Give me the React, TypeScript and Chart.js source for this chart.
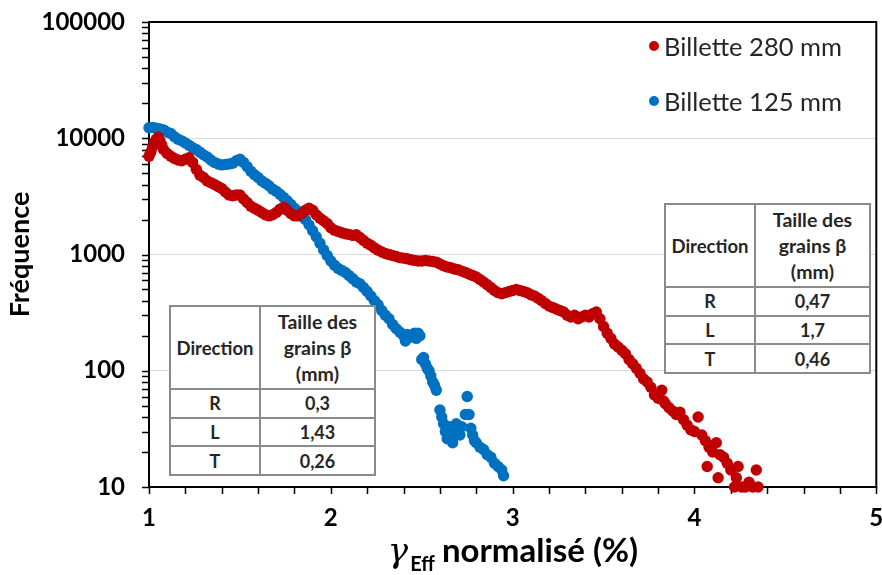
import React, { useEffect, useRef } from "react";
import { Chart, registerables } from "chart.js";

Chart.register(...registerables);

const FONT = 'Lato, "Open Sans", sans-serif';

const seriesNames = ["Billette 280 mm", "Billette 125 mm"];
const seriesColors = ["#C00000", "#0070C0"];

const redX = [1.00,1.01,1.02,1.03,1.04,1.05,1.06,1.07,1.08,1.10,1.12,1.14,1.16,1.18,1.20,1.22,1.24,1.26,1.28,1.30,1.32,1.34,1.36,1.38,1.40,1.42,1.44,1.46,1.48,1.50,1.52,1.54,1.56,1.58,1.60,1.62,1.64,1.66,1.68,1.70,1.72,1.74,1.76,1.78,1.80,1.82,1.84,1.86,1.88,1.90,1.92,1.94,1.96,1.98,2.00,2.02,2.04,2.06,2.08,2.10,2.12,2.14,2.16,2.18,2.20,2.22,2.24,2.26,2.28,2.30,2.32,2.34,2.36,2.38,2.40,2.42,2.44,2.46,2.48,2.50,2.52,2.54,2.56,2.58,2.60,2.62,2.64,2.66,2.68,2.70,2.72,2.74,2.76,2.78,2.80,2.82,2.84,2.86,2.88,2.90,2.92,2.94,2.96,2.98,3.00,3.02,3.04,3.06,3.08,3.10,3.12,3.14,3.16,3.18,3.20,3.22,3.24,3.26,3.28,3.30,3.32,3.34,3.36,3.38,3.40,3.42,3.44,3.46,3.48,3.50,3.52,3.54,3.56,3.58,3.60,3.62,3.64,3.66,3.68,3.70,3.72,3.74,3.76,3.78,3.80,3.82,3.83,3.84,3.86,3.88,3.90,3.92,3.94,3.96,3.98,4.00,4.02,4.04,4.06,4.07,4.08,4.10,4.12,4.13,4.14,4.16,4.18,4.20,4.22,4.23,4.24,4.26,4.28,4.30,4.32,4.34,4.35];
const redY = [7000,7600,8400,9200,9800,10200,9500,8800,8000,7400,7000,6700,6500,6400,6600,6800,6200,5400,4800,4600,4300,4150,4000,3850,3700,3450,3250,3200,3250,3250,3000,2800,2600,2500,2400,2300,2200,2150,2200,2300,2450,2550,2400,2250,2150,2150,2250,2400,2500,2400,2200,2050,1950,1850,1700,1620,1580,1540,1510,1490,1460,1480,1400,1320,1250,1200,1140,1090,1050,1020,1000,980,960,940,930,920,900,890,880,880,890,880,870,860,830,800,780,770,750,740,720,700,680,660,640,610,580,550,520,490,470,460,470,480,490,500,490,480,470,450,440,420,400,380,360,350,340,330,320,300,290,300,280,290,300,290,310,320,280,240,210,190,170,160,150,140,125,115,105,95,85,80,72,62,58,68,55,52,48,45,42,44,38,34,31,30,40,28,25,15,22,20,24,12,19,18,16,14,10,12,15,10,10,11,10,14,10];

const blueX = [1.00,1.02,1.04,1.06,1.08,1.10,1.12,1.14,1.16,1.18,1.20,1.22,1.24,1.26,1.28,1.30,1.32,1.34,1.36,1.38,1.40,1.42,1.44,1.46,1.48,1.50,1.52,1.54,1.56,1.58,1.60,1.62,1.64,1.66,1.68,1.70,1.72,1.74,1.76,1.78,1.80,1.82,1.84,1.86,1.88,1.90,1.92,1.94,1.96,1.98,2.00,2.02,2.04,2.06,2.08,2.10,2.12,2.14,2.16,2.18,2.20,2.22,2.24,2.26,2.28,2.30,2.32,2.34,2.36,2.38,2.40,2.41,2.42,2.44,2.46,2.47,2.48,2.49,2.50,2.51,2.52,2.53,2.54,2.55,2.56,2.57,2.58,2.60,2.61,2.62,2.63,2.64,2.65,2.66,2.67,2.68,2.69,2.70,2.71,2.72,2.74,2.75,2.76,2.77,2.78,2.79,2.80,2.82,2.84,2.86,2.88,2.90,2.92,2.94,2.95];
const blueY = [12300,12400,12200,12000,11800,11300,11000,10300,9800,9500,9100,8700,8300,8000,7600,7200,6900,6500,6200,6000,5900,5950,6000,6100,6400,6600,6200,5700,5200,4850,4600,4300,4100,3900,3650,3500,3300,3100,2900,2700,2500,2350,2150,2000,1800,1600,1420,1250,1100,980,880,810,760,730,700,660,620,580,560,520,480,440,400,370,330,300,280,250,230,215,200,180,205,195,210,190,210,200,125,130,115,105,100,90,80,75,68,46,40,35,30,26,33,28,24,32,35,30,28,33,42,60,42,32,28,25,24,22,21,19,18,16,15,14,12.5];

const xTicks = [1, 2, 3, 4, 5];
const yTicks = [10, 100, 1000, 10000, 100000];

const tableHeader = ["Direction", "Taille des", "grains β", "(mm)"];
const directions = ["R", "L", "T"];
const sizes125 = ["0,3", "1,43", "0,26"];
const sizes280 = ["0,47", "1,7", "0,46"];

const framePlugin = {
  id: "frame",
  beforeDatasetsDraw(chart: any) {
    const { ctx, chartArea: a, scales } = chart;
    const x = scales.x;
    const y = scales.y;
    ctx.save();
    ctx.strokeStyle = "#000";
    ctx.lineWidth = 1.5;
    ctx.beginPath();
    for (let e = 1; e <= 5; e++) {
      for (let m = 1; m <= 9; m++) {
        const v = m * Math.pow(10, e);
        if (v > 100000) break;
        const py = Math.round(y.getPixelForValue(v)) + 0.5;
        ctx.moveTo(a.left - 7, py);
        ctx.lineTo(a.left, py);
      }
    }
    for (let i = 0; i <= 20; i++) {
      const px = Math.round(x.getPixelForValue(1 + i * 0.2)) + 0.5;
      ctx.moveTo(px, a.bottom);
      ctx.lineTo(px, a.bottom + 7);
    }
    ctx.stroke();
    ctx.lineWidth = 2;
    ctx.strokeRect(a.left, a.top, a.right - a.left, a.bottom - a.top);
    ctx.restore();
  },
};

function GrainTable({ left, top, values }: { left: number; top: number; values: string[] }) {
  const cell: React.CSSProperties = {
    border: "2px solid #8a8a8a",
    textAlign: "center",
    verticalAlign: "middle",
    padding: 0,
  };
  return (
    <table
      style={{
        position: "absolute",
        left,
        top,
        width: 205,
        height: 169,
        borderCollapse: "collapse",
        background: "#fff",
        fontFamily: FONT,
        fontWeight: 700,
        fontSize: 18,
        color: "#262626",
        tableLayout: "fixed",
      }}
    >
      <colgroup>
        <col style={{ width: 90 }} />
        <col style={{ width: 115 }} />
      </colgroup>
      <tbody>
        <tr style={{ height: 83 }}>
          <td style={{ ...cell, fontSize: 18.5 }}>{tableHeader[0]}</td>
          <td style={{ ...cell, fontSize: 19.5, lineHeight: "26px" }}>
            {tableHeader[1]}
            <br />
            {tableHeader[2]}
            <br />
            {tableHeader[3]}
          </td>
        </tr>
        {directions.map((d, i) => (
          <tr key={d} style={{ height: 28.7 }}>
            <td style={cell}>{d}</td>
            <td style={cell}>{values[i]}</td>
          </tr>
        ))}
      </tbody>
    </table>
  );
}

export default function App() {
  const ref = useRef<HTMLCanvasElement>(null);
  useEffect(() => {
    if (!ref.current) return;
    const zeroPad = (s: any) => {
      s.paddingTop = 0;
      s.paddingBottom = 0;
      s.paddingLeft = 0;
      s.paddingRight = 0;
    };
    const chart = new Chart(ref.current, {
      type: "scatter",
      data: {
        datasets: [
          {
            label: seriesNames[0],
            data: redX.map((x, i) => ({ x, y: redY[i] })),
            backgroundColor: seriesColors[0],
            borderColor: seriesColors[0],
            pointRadius: 5.7,
            pointBorderWidth: 0,
            clip: 8,
          },
          {
            label: seriesNames[1],
            data: blueX.map((x, i) => ({ x, y: blueY[i] })),
            backgroundColor: seriesColors[1],
            borderColor: seriesColors[1],
            pointRadius: 5.7,
            pointBorderWidth: 0,
            clip: 8,
          },
        ],
      },
      options: {
        animation: false,
        responsive: false,
        layout: { padding: { top: 22, right: 4, bottom: 0, left: 0 } },
        plugins: { legend: { display: false }, tooltip: { enabled: false } },
        scales: {
          x: {
            type: "linear",
            min: 1,
            max: 5,
            afterBuildTicks: (s: any) => {
              s.ticks = xTicks.map((v) => ({ value: v }));
            },
            afterFit: (s: any) => {
              s.height = 88;
              zeroPad(s);
            },
            grid: { display: false, drawTicks: false },
            border: { display: false },
            ticks: {
              padding: 17,
              color: "#000",
              font: { family: FONT, size: 24, weight: "bold" },
              callback: (v: any) => String(v),
            },
          },
          y: {
            type: "logarithmic",
            min: 10,
            max: 100000,
            afterBuildTicks: (s: any) => {
              s.ticks = yTicks.map((v) => ({ value: v }));
            },
            afterFit: (s: any) => {
              s.width = 149;
              zeroPad(s);
            },
            grid: { display: true, drawTicks: false, color: "#d9d9d9", lineWidth: 1 },
            border: { display: false },
            ticks: {
              padding: 24,
              color: "#000",
              font: { family: FONT, size: 24, weight: "bold" },
              callback: (v: any) => String(v),
            },
            title: {
              display: true,
              text: "Fréquence",
              color: "#000",
              font: { family: FONT, size: 27, weight: "bold" },
              padding: { top: 4, bottom: 0 },
            },
          },
        },
      },
      plugins: [framePlugin],
    } as any);
    return () => chart.destroy();
  }, []);

  return (
    <div style={{ position: "fixed", left: 0, top: 0, width: 882, height: 575, background: "#fff" }}>
      <canvas ref={ref} width={882} height={575} style={{ display: "block" }} />
      {seriesNames.map((n, i) => (
        <div
          key={n}
          style={{
            position: "absolute",
            left: 649,
            top: 31 + i * 55,
            fontFamily: FONT,
            fontSize: 25.5,
            color: "#262626",
            display: "flex",
            alignItems: "center",
            whiteSpace: "nowrap",
          }}
        >
          <span
            style={{
              display: "inline-block",
              width: 10,
              height: 10,
              borderRadius: 5,
              background: seriesColors[i],
              marginRight: 5,
            }}
          />
          {n}
        </div>
      ))}
      <GrainTable left={169} top={305} values={sizes125} />
      <GrainTable left={664} top={203} values={sizes280} />
      <div
        style={{
          position: "absolute",
          left: 0,
          width: 1026,
          top: 529,
          textAlign: "center",
          fontFamily: FONT,
          fontWeight: 700,
          fontSize: 33,
          color: "#000",
          whiteSpace: "nowrap",
        }}
      >
        <span style={{ fontFamily: '"DejaVu Serif", serif', fontStyle: "italic", fontWeight: 400, fontSize: 34 }}>γ</span>
        <span style={{ fontSize: 20, position: "relative", top: 9, marginLeft: 2, marginRight: 7 }}>Eff</span>
        normalisé (%)
      </div>
    </div>
  );
}
